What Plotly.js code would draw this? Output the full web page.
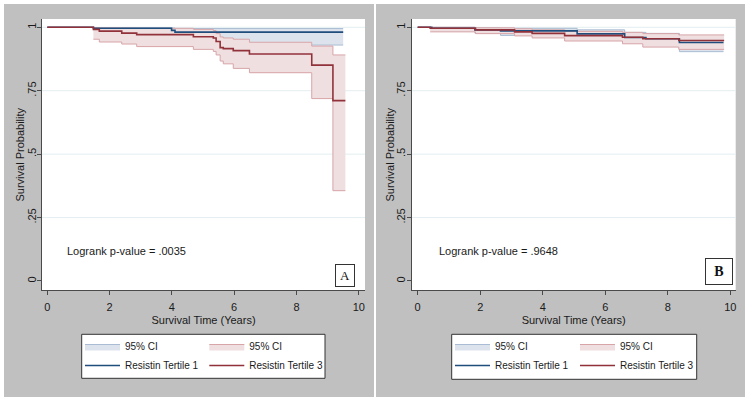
<!DOCTYPE html>
<html>
<head>
<meta charset="utf-8">
<script src="https://cdn.plot.ly/plotly-3.0.1.min.js"></script>
<style>html,body{margin:0;padding:0;background:#fff;}#chart{width:750px;height:401px;}</style>
</head>
<body>
<div id="chart"></div>
<script>
// ---------- Data ----------
const yTickVals = [0, 0.25, 0.5, 0.75, 1];
const yTickText = ['0', '.25', '.5', '.75', '1'];
const gridVals = [0.25, 0.5, 0.75, 1];
const xTickVals = [0, 2, 4, 6, 8, 10];

// Panel A: Resistin Tertile 1
const tA1 = [0, 1.48, 3.99, 4.10, 9.50];
const sA1 = [1, 0.996, 0.988, 0.981, 0.981];
const tA1ci = [1.48, 3.99, 4.10, 9.50];
const loA1 = [0.990, 0.972, 0.930, 0.930];
const hiA1 = [0.999, 0.997, 0.995, 0.995];
// Panel A: Resistin Tertile 3
const tA3 = [0, 1.48, 1.67, 2.39, 2.87, 4.69, 5.33, 5.42, 5.55, 5.65, 5.97, 6.49, 8.49, 9.17, 9.57];
const sA3 = [1, 0.992, 0.985, 0.977, 0.971, 0.963, 0.958, 0.944, 0.920, 0.916, 0.908, 0.895, 0.851, 0.711, 0.711];
const tA3ci = [1.48, 1.67, 2.39, 2.87, 4.69, 5.33, 5.42, 5.55, 5.65, 5.97, 6.49, 8.49, 9.17, 9.57];
const loA3 = [0.953, 0.942, 0.934, 0.924, 0.913, 0.905, 0.891, 0.867, 0.856, 0.838, 0.821, 0.719, 0.356, 0.356];
const hiA3 = [0.999, 0.998, 0.997, 0.996, 0.992, 0.987, 0.975, 0.962, 0.958, 0.953, 0.941, 0.926, 0.891, 0.891];

// Panel B: Resistin Tertile 1
const tB1 = [0, 0.45, 1.83, 2.65, 5.10, 6.62, 7.30, 8.37, 9.78];
const sB1 = [1, 0.996, 0.990, 0.986, 0.974, 0.960, 0.955, 0.940, 0.940];
const tB1ci = [0.45, 1.83, 2.65, 5.10, 6.62, 7.30, 8.37, 9.78];
const loB1 = [0.985, 0.977, 0.968, 0.955, 0.942, 0.931, 0.904, 0.904];
const hiB1 = [1.000, 0.998, 0.996, 0.990, 0.980, 0.976, 0.966, 0.966];
// Panel B: Resistin Tertile 3
const tB3 = [0, 0.40, 1.85, 3.10, 3.66, 4.70, 6.55, 7.20, 8.35, 9.80];
const sB3 = [1, 0.996, 0.990, 0.982, 0.976, 0.967, 0.961, 0.955, 0.948, 0.948];
const tB3ci = [0.40, 1.85, 3.10, 3.66, 4.70, 6.55, 7.20, 8.35, 9.80];
const loB3 = [0.982, 0.975, 0.966, 0.958, 0.946, 0.935, 0.922, 0.913, 0.913];
const hiB3 = [1.000, 0.998, 0.994, 0.990, 0.984, 0.980, 0.975, 0.970, 0.970];

const ciLabel = '95% CI';
const seriesNames = ['Resistin Tertile 1', 'Resistin Tertile 3'];
const pLabels = ['Logrank p-value = .0035', 'Logrank p-value = .9648'];
const panelLabels = ['A', 'B'];
const xTitle = 'Survival Time (Years)';
const yTitle = 'Survival Probability';

// ---------- Styles ----------
const W = 750, H = 401;
const FONT = '"Liberation Sans", Arial, sans-serif';
const FS = 11;
const LFS = 10;
const blue = '#1f4e7d', red = '#91323a';
const blueFill = '#dde3ec', blueEdge = '#a9bcd3';
const redFill = '#f0dfe0', redEdge = '#d7a4a8';
const axisCol = '#4a4a4a';
const txtCol = '#1a1a1a';
const px = v => v / W;
const py = v => 1 - v / H;

function band(t, lo, hi, xa, ya, fill, edge, legend) {
  return [
    {x: t, y: lo, xaxis: xa, yaxis: ya, type: 'scatter', mode: 'lines',
     line: {shape: 'hv', color: edge, width: 1}, showlegend: false, hoverinfo: 'skip'},
    {x: t, y: hi, xaxis: xa, yaxis: ya, type: 'scatter', mode: 'lines', fill: 'tonexty',
     fillcolor: fill, line: {shape: 'hv', color: edge, width: 1}, name: ciLabel,
     legend: legend, showlegend: true}
  ];
}
function curve(t, s, xa, ya, color, name, legend) {
  return {x: t, y: s, xaxis: xa, yaxis: ya, type: 'scatter', mode: 'lines',
          line: {shape: 'hv', color: color, width: 1.6}, name: name, legend: legend};
}

const data = [].concat(
  band(tA1ci, loA1, hiA1, 'x', 'y', blueFill, blueEdge, 'legend'),
  band(tA3ci, loA3, hiA3, 'x', 'y', redFill, redEdge, 'legend2'),
  [curve(tA1, sA1, 'x', 'y', blue, seriesNames[0], 'legend'),
   curve(tA3, sA3, 'x', 'y', red, seriesNames[1], 'legend2')],
  band(tB1ci, loB1, hiB1, 'x2', 'y2', blueFill, blueEdge, 'legend3'),
  band(tB3ci, loB3, hiB3, 'x2', 'y2', redFill, redEdge, 'legend4'),
  [curve(tB1, sB1, 'x2', 'y2', blue, seriesNames[0], 'legend3'),
   curve(tB3, sB3, 'x2', 'y2', red, seriesNames[1], 'legend4')]
);

function xAxis(domain, range, anchor) {
  return {domain: domain, range: range, anchor: anchor, tickvals: xTickVals,
    ticks: 'outside', ticklen: 4, tickcolor: axisCol, showline: true, linecolor: axisCol,
    linewidth: 1, showgrid: false, zeroline: false, fixedrange: true, ticklabelstandoff: 3,
    tickfont: {family: FONT, size: FS, color: txtCol},
    title: {text: xTitle, font: {family: FONT, size: FS, color: txtCol}, standoff: 4}};
}
function yAxis(domain, anchor) {
  return {domain: domain, range: [-0.0355, 1.0327], anchor: anchor, tickvals: yTickVals,
    ticktext: yTickText, tickangle: -90, ticks: 'outside', ticklen: 4, tickcolor: axisCol,
    showline: true, linecolor: axisCol, linewidth: 1, showgrid: false, zeroline: false,
    ticklabelstandoff: -3,
    fixedrange: true, tickfont: {family: FONT, size: FS, color: txtCol}};
}

const panels = [
  {gx0: 4, gx1: 374, l: 42, r: 365, lg: [81.7, 325, 334.3, 378.3]},
  {gx0: 376, gx1: 745, l: 411.7, r: 735.7, lg: [451.7, 696.7, 334.3, 379.3]}
];
const shapes = [];
panels.forEach(p => {
  shapes.push({type: 'rect', xref: 'paper', yref: 'paper', layer: 'below',
    x0: px(p.gx0), x1: px(p.gx1), y0: py(397), y1: py(4), fillcolor: '#c0c0c0', line: {width: 0}});
  shapes.push({type: 'rect', xref: 'paper', yref: 'paper', layer: 'below',
    x0: px(p.l), x1: px(p.r), y0: py(290), y1: py(19), fillcolor: '#ffffff', line: {width: 0}});
  shapes.push({type: 'rect', xref: 'paper', yref: 'paper', layer: 'below',
    x0: px(p.lg[0]), x1: px(p.lg[1]), y0: py(p.lg[3]), y1: py(p.lg[2]),
    fillcolor: '#ffffff', line: {color: '#333', width: 1}});
});
['y', 'y2'].forEach((ya, i) => {
  gridVals.forEach(v => shapes.push({type: 'line', xref: (i ? 'x2' : 'x') + ' domain', yref: ya,
    x0: 0, x1: 1, y0: v, y1: v, layer: 'below', line: {color: '#e3eef0', width: 1}}));
});

const annotations = [
  {xref: 'paper', yref: 'paper', x: px(19), y: py(154.5), xanchor: 'center', yanchor: 'middle',
   textangle: -90, text: yTitle, showarrow: false, font: {family: FONT, size: FS, color: txtCol}},
  {xref: 'paper', yref: 'paper', x: px(389), y: py(154.5), xanchor: 'center', yanchor: 'middle',
   textangle: -90, text: yTitle, showarrow: false, font: {family: FONT, size: FS, color: txtCol}},
  {xref: 'paper', yref: 'paper', x: px(65), y: py(251), xanchor: 'left', yanchor: 'middle',
   text: pLabels[0], showarrow: false, font: {family: FONT, size: FS, color: txtCol}},
  {xref: 'paper', yref: 'paper', x: px(436.7), y: py(251), xanchor: 'left', yanchor: 'middle',
   text: pLabels[1], showarrow: false, font: {family: FONT, size: FS, color: txtCol}},
  {xref: 'paper', yref: 'paper', x: px(344.5), y: py(275), xanchor: 'center', yanchor: 'middle',
   text: panelLabels[0], showarrow: false, width: 18, height: 21, borderpad: 0, borderwidth: 1,
   bordercolor: '#333', bgcolor: '#fff', font: {family: '"Liberation Serif", serif', size: 13, color: '#111'}},
  {xref: 'paper', yref: 'paper', x: px(718.8), y: py(271.8), xanchor: 'center', yanchor: 'middle',
   text: '<b>' + panelLabels[1] + '</b>', showarrow: false, width: 26, height: 25, borderpad: 0, borderwidth: 1,
   bordercolor: '#333', bgcolor: '#fff', font: {family: '"Liberation Serif", serif', size: 14, color: '#111'}}
];

function legendAt(x) {
  return {x: px(x), y: py(332), xanchor: 'left', yanchor: 'top', orientation: 'v',
    traceorder: 'normal', bgcolor: 'rgba(0,0,0,0)', borderwidth: 0, itemwidth: 35, tracegroupgap: 0,
    font: {family: FONT, size: LFS, color: txtCol}};
}

const layout = {
  width: W, height: H, margin: {l: 0, r: 0, t: 0, b: 0},
  paper_bgcolor: '#ffffff', plot_bgcolor: 'rgba(0,0,0,0)',
  font: {family: FONT, size: FS, color: txtCol},
  xaxis: xAxis([px(42), px(365)], [-0.17, 10.2], 'y'),
  yaxis: yAxis([py(290), py(19)], 'x'),
  xaxis2: xAxis([px(411.7), px(735.7)], [-0.19, 10.17], 'y2'),
  yaxis2: yAxis([py(290), py(19)], 'x2'),
  legend: legendAt(80), legend2: legendAt(204.3),
  legend3: legendAt(450), legend4: legendAt(575),
  shapes: shapes, annotations: annotations, showlegend: true
};

Plotly.newPlot('chart', data, layout, {staticPlot: true, displayModeBar: false});
</script>
</body>
</html>
